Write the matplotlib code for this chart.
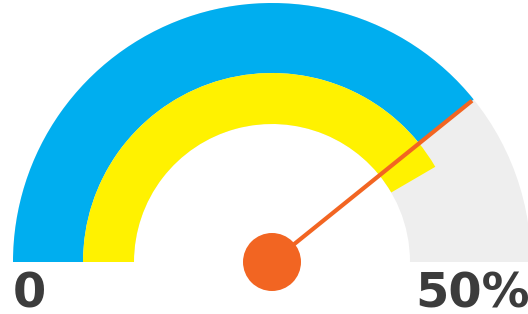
import matplotlib
matplotlib.use("Agg")
import matplotlib.pyplot as plt
from matplotlib.patches import Wedge, Circle

# Data
max_value = 50
outer_value = 39.2   # blue arc / needle
inner_value = 41.6   # yellow arc
labels = ["0", "50%"]

W, H = 528, 314
fig = plt.figure(figsize=(W / 100, H / 100), dpi=100)
ax = fig.add_axes([0, 0, 1, 1])
ax.set_xlim(0, W)
ax.set_ylim(0, H)
ax.set_aspect("equal")
ax.axis("off")

cx, cy = 272, 314 - 262
r_out, r_mid, r_in = 259, 189, 138

def ang(v):
    return 180.0 * (1 - v / max_value)

ax.add_patch(Wedge((cx, cy), r_out, 0, 180, width=r_out - r_in, color="#EEEEEE", lw=0))
ax.add_patch(Wedge((cx, cy), r_out, ang(outer_value), 180, width=r_out - r_mid, color="#00AEEF", lw=0))
ax.add_patch(Wedge((cx, cy), r_mid, ang(inner_value), 180, width=r_mid - r_in, color="#FFF200", lw=0))

import numpy as np
a = np.deg2rad(ang(outer_value))
ax.plot([cx, cx + 257 * np.cos(a)], [cy, cy + 257 * np.sin(a)], color="#F26522", lw=3.0, solid_capstyle="butt")
ax.add_patch(Circle((cx, cy), 29, color="#F26522", lw=0))

ax.text(13, 7, labels[0], fontsize=34.5, fontweight="bold", color="#3C3C3C", ha="left", va="baseline", family="DejaVu Sans")
ax.text(415, 7, labels[1], fontsize=34.5, fontweight="bold", color="#3C3C3C", ha="left", va="baseline", family="DejaVu Sans")

fig.savefig("out.png", dpi=100)
